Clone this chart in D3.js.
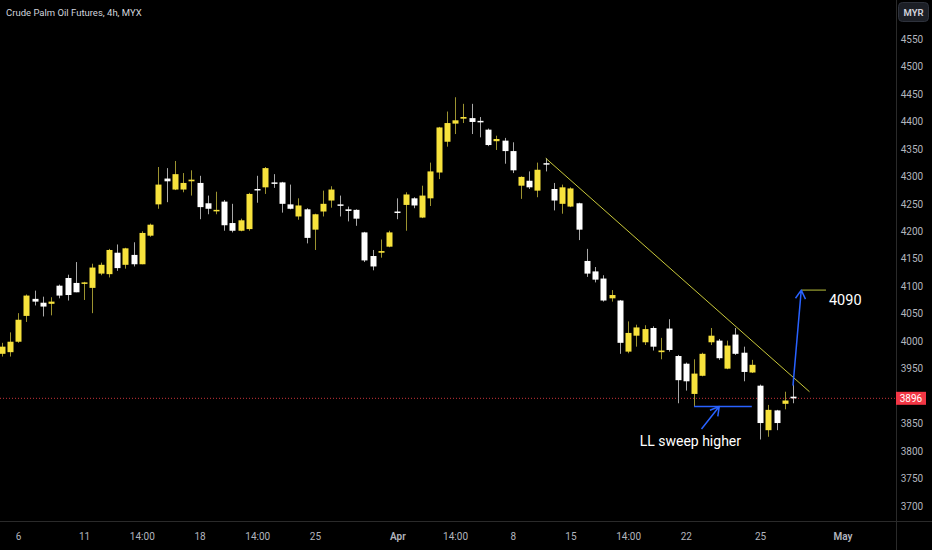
<!DOCTYPE html>
<html>
<head>
<meta charset="utf-8">
<script src="https://cdn.jsdelivr.net/npm/d3@7"></script>
<style>
  html, body { margin: 0; padding: 0; background: #000; overflow: hidden; }
  text { font-family: Roboto, "Noto Sans", sans-serif; }
</style>
</head>
<body>
<div id="chart"></div>
<script>
// 4h candles (index = bar number)
const open  = [3977,3980,3999,4046,4077,4070,4068,4101,4115,4106,4105,4097,4123,4122,4161,4139,4157,4140,4192,4249,
               4296,4276,4276,4291,4288,4251,4237,4254,4215,4201,4204,4277,4280,4289,4289,4249,4227,4240,4203,4236,
               4256,4249,4240,4239,4198,4155,4161,4172,4236,4248,4260,4225,4260,4307,4363,4396,4405,4406,4401,4385,
               4364,4365,4346,4283,4292,4274,4324,4277,4250,4245,4251,4146,4127,4114,4078,4074,3981,4010,3998,4024,
               3980,4023,3973,3959,3904,3937,3998,4001,3950,4012,3979,3943,3919,3838,3874,3886,3899];
const high  = [3997,4016,4051,4085,4092,4081,4080,4103,4121,4144,4108,4141,4143,4168,4176,4170,4180,4200,4214,4317,
               4315,4328,4306,4311,4301,4265,4272,4257,4250,4223,4270,4301,4317,4304,4290,4285,4260,4242,4232,4274,
               4282,4265,4245,4240,4199,4166,4185,4201,4260,4271,4262,4283,4325,4390,4418,4444,4432,4432,4408,4387,
               4374,4370,4362,4300,4309,4325,4333,4288,4285,4280,4252,4168,4135,4120,4093,4075,4036,4030,4029,4027,
               4006,4040,3975,3961,3967,3979,4024,4004,4001,4024,3990,3966,3921,3884,3875,3908,3921];
const low   = [3972,3972,3997,4035,4065,4045,4047,4078,4074,4089,4075,4051,4120,4116,4128,4132,4136,4140,4190,4241,
               4253,4275,4271,4265,4222,4231,4231,4201,4198,4200,4201,4252,4268,4279,4234,4240,4221,4178,4166,4227,
               4243,4227,4218,4210,4144,4129,4152,4171,4222,4201,4242,4224,4246,4295,4354,4377,4397,4377,4371,4355,
               4348,4323,4306,4259,4277,4262,4309,4238,4232,4244,4184,4117,4107,4072,4072,3977,3978,3990,3993,3983,
               3967,3981,3887,3910,3881,3936,3993,3966,3949,3975,3927,3942,3821,3826,3838,3876,3887];
const close = [3990,3999,4039,4083,4072,4063,4072,4083,4084,4089,4107,4134,4139,4166,4133,4169,4140,4197,4212,4285,
               4291,4304,4288,4294,4244,4241,4239,4211,4201,4220,4268,4275,4315,4287,4250,4241,4247,4188,4231,4250,
               4276,4247,4237,4223,4147,4136,4164,4198,4234,4267,4247,4265,4309,4389,4397,4402,4408,4399,4399,4357,
               4368,4346,4311,4299,4280,4312,4322,4256,4280,4278,4203,4123,4112,4074,4084,3997,4015,4025,4022,3990,
               3983,3984,3929,3927,3941,3977,4010,3969,3992,3977,3944,3957,3851,3875,3851,3892,3896];

const lastPrice = 3896;

// axis ticks
const priceTicks = [3700,3750,3800,3850,3950,4000,4050,4100,4150,4200,4250,4300,4350,4400,4450,4500,4550];
const timeTickIdx = [2,10,17,24,31,38,48,55,62,69,76,83,92,102];
const timeTickLabels = ["6","11","14:00","18","14:00","25","Apr","14:00","8","15","14:00","22","25","May"];

// drawings: [bar, price] pairs
const trendLine = [[66, 4333], [98, 3908]];
const sweepLine = [[84, 3881], [91, 3881]];
const sweepArrow = [[84.9, 3840], [87.05, 3881]];
const targetArrow = [[96, 3919], [97, 4093]];
const targetLine = [[97, 4093], [100, 4093]];

const W = 932, H = 550;
const plotR = 896, plotB = 521;

const svg = d3.select("#chart").append("svg")
  .attr("width", W).attr("height", H)
  .style("background", "#000");

const x = d3.scaleLinear().domain([0, 96]).range([1.7, 793]);
const y = d3.scaleLinear().domain([3700, 4550]).range([506, 39]);

svg.append("clipPath").attr("id", "plot")
  .append("rect").attr("x", 0).attr("y", 0).attr("width", plotR).attr("height", plotB);

const plot = svg.append("g").attr("clip-path", "url(#plot)");

// last price dotted line
plot.append("line")
  .attr("x1", 0).attr("x2", plotR)
  .attr("y1", y(lastPrice)).attr("y2", y(lastPrice))
  .attr("stroke", "#c8343a").attr("stroke-width", 1)
  .attr("stroke-dasharray", "1,2");

const bars = d3.range(open.length);
const up = i => close[i] >= open[i];
const bw = 6;

// wicks
plot.append("g").selectAll("line")
  .data(bars)
  .join("line")
    .attr("x1", i => Math.round(x(i)) + 0.5)
    .attr("x2", i => Math.round(x(i)) + 0.5)
    .attr("y1", i => y(high[i]))
    .attr("y2", i => y(low[i]))
    .attr("stroke", i => up(i) ? "#9c9330" : "#a8a8a8")
    .attr("stroke-width", 1);

// bodies
plot.append("g").selectAll("rect")
  .data(bars)
  .join("rect")
    .attr("x", i => Math.round(x(i)) + 0.5 - bw / 2)
    .attr("y", i => y(Math.max(open[i], close[i])))
    .attr("width", bw)
    .attr("height", i => Math.max(1.5, Math.abs(y(open[i]) - y(close[i]))))
    .attr("fill", i => up(i) ? "#f7e23c" : "#ffffff");

// drawings
const line = d3.line().x(d => x(d[0])).y(d => y(d[1]));

plot.append("path").attr("d", line(trendLine))
  .attr("fill", "none").attr("stroke", "#c9c83a").attr("stroke-width", 1);
plot.append("path").attr("d", line(targetLine))
  .attr("fill", "none").attr("stroke", "#b9c23c").attr("stroke-width", 1);
plot.append("path").attr("d", line(sweepLine))
  .attr("fill", "none").attr("stroke", "#2962ff").attr("stroke-width", 1.5);

function arrow(pts) {
  const [x0, y0] = [x(pts[0][0]), y(pts[0][1])];
  const [x1, y1] = [x(pts[1][0]), y(pts[1][1])];
  const a = Math.atan2(y1 - y0, x1 - x0), len = 10, spread = Math.PI / 6;
  const p1 = [x1 - len * Math.cos(a - spread), y1 - len * Math.sin(a - spread)];
  const p2 = [x1 - len * Math.cos(a + spread), y1 - len * Math.sin(a + spread)];
  plot.append("path")
    .attr("d", `M${x0},${y0}L${x1},${y1}M${p1[0]},${p1[1]}L${x1},${y1}L${p2[0]},${p2[1]}`)
    .attr("fill", "none").attr("stroke", "#2962ff").attr("stroke-width", 1.5)
    .attr("stroke-linejoin", "round");
}
arrow(sweepArrow);
arrow(targetArrow);

plot.append("text")
  .attr("x", x(targetLine[1][0]) + 3).attr("y", y(targetLine[1][1]) + 15)
  .attr("fill", "#ffffff").style("font-size", "14.5px")
  .text("4090");

plot.append("text")
  .attr("x", x(77.4)).attr("y", y(3809))
  .attr("fill", "#ffffff").style("font-size", "14px")
  .text("LL sweep higher");

// title
svg.append("text")
  .attr("x", 6).attr("y", 16)
  .attr("fill", "#d1d4dc").style("font-size", "9.5px")
  .text("Crude Palm Oil Futures, 4h, MYX");

// axis borders
svg.append("line").attr("x1", plotR + 0.5).attr("x2", plotR + 0.5).attr("y1", 0).attr("y2", H)
  .attr("stroke", "#2a2a2a");
svg.append("line").attr("x1", 0).attr("x2", W).attr("y1", plotB + 0.5).attr("y2", plotB + 0.5)
  .attr("stroke", "#2a2a2a");

// price axis
const yAxis = svg.append("g")
  .attr("transform", `translate(${plotR}, 0)`)
  .call(d3.axisRight(y).tickValues(priceTicks).tickFormat(d3.format("d")).tickSize(0).tickPadding(16));
yAxis.select(".domain").remove();
yAxis.selectAll("text")
  .attr("fill", "#b2b5be").attr("x", 16).style("text-anchor", "middle")
  .style("font-size", "10px").style("font-family", "Roboto, sans-serif");

// time axis
const xAxis = svg.append("g")
  .attr("transform", `translate(0, ${plotB})`)
  .call(d3.axisBottom(x).tickValues(timeTickIdx).tickFormat((d, i) => timeTickLabels[i])
    .tickSize(0).tickPadding(12));
xAxis.select(".domain").remove();
xAxis.selectAll("text")
  .attr("fill", "#b2b5be")
  .style("font-size", "10px").style("font-family", "Roboto, sans-serif")
  .style("font-weight", (d, i) => (timeTickLabels[i] === "Apr" || timeTickLabels[i] === "May") ? "600" : "400");

// last price tag
svg.append("rect")
  .attr("x", plotR).attr("y", y(lastPrice) - 6.5).attr("width", 30).attr("height", 13)
  .attr("fill", "#f23645");
svg.append("text")
  .attr("x", plotR + 15).attr("y", y(lastPrice) + 3.5)
  .attr("fill", "#ffffff").style("text-anchor", "middle").style("font-size", "10px")
  .text(lastPrice);

// currency button
svg.append("rect")
  .attr("x", 898.5).attr("y", 2.5).attr("width", 30).attr("height", 19).attr("rx", 4)
  .attr("fill", "#1c1f26").attr("stroke", "#2e323c");
svg.append("text")
  .attr("x", 913.5).attr("y", 15.5)
  .attr("fill", "#d1d4dc").style("text-anchor", "middle")
  .style("font-size", "9.5px").style("font-weight", "600")
  .text("MYR");
</script>
</body>
</html>
